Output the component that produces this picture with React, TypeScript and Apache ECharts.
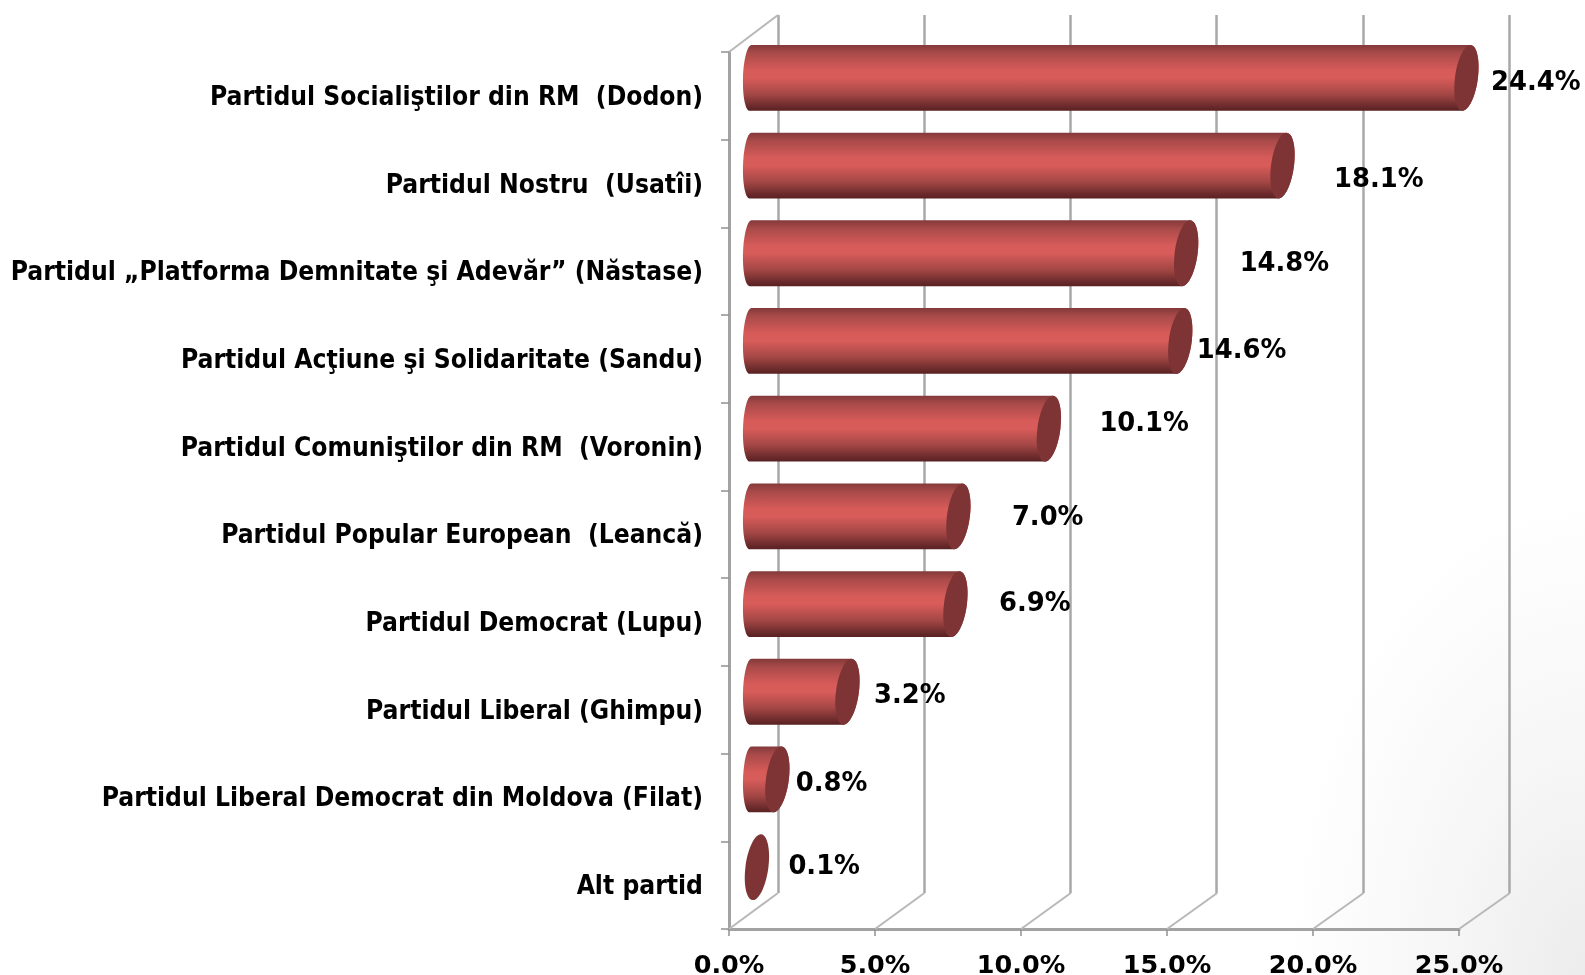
import React, { useEffect, useRef } from "react";
import * as echarts from "echarts";

const categories = [
  "Partidul Socialiştilor din RM  (Dodon)",
  "Partidul Nostru  (Usatîi)",
  "Partidul „Platforma Demnitate şi Adevăr” (Năstase)",
  "Partidul Acţiune şi Solidaritate (Sandu)",
  "Partidul Comuniştilor din RM  (Voronin)",
  "Partidul Popular European  (Leancă)",
  "Partidul Democrat (Lupu)",
  "Partidul Liberal (Ghimpu)",
  "Partidul Liberal Democrat din Moldova (Filat)",
  "Alt partid",
];
const values = [24.4, 18.1, 14.8, 14.6, 10.1, 7.0, 6.9, 3.2, 0.8, 0.1];
const wallTicks = [0, 5, 10, 15, 20, 25];
// manual label nudges (px) from the bar's end, as placed in the original
const labelDx = [13, 40, 42, 5, 39, 42, 32, 15, 7, 20];
const labelDy = [3, 12, 9, 8, -7, 0, -2, 2, 3, -2];

const CAT_FONT = '"DejaVu Sans Condensed", "DejaVu Sans", sans-serif';
const NUM_FONT = '"DejaVu Sans", sans-serif';
const DEPTH_X = 49;
const DEPTH_Y = 36;

function capPoint(cx: number, cy: number, rx: number, ry: number, s: number) {
  return (u: number, v: number) => `${(cx + rx * u - s * v).toFixed(2)} ${(cy + ry * v).toFixed(2)}`;
}
const K = 0.5523;

export default function App() {
  const ref = useRef<HTMLDivElement>(null);
  useEffect(() => {
    document.body.style.margin = "0";
    document.documentElement.style.overflow = "hidden";
    const chart = echarts.init(ref.current!, null, { renderer: "svg" });
    const barFill = new echarts.graphic.LinearGradient(0, 0, 0, 1, [
      { offset: 0, color: "#84393a" },
      { offset: 0.12, color: "#a84a49" },
      { offset: 0.38, color: "#d65b59" },
      { offset: 0.5, color: "#d85c5a" },
      { offset: 0.75, color: "#a34745" },
      { offset: 0.92, color: "#6f2c2d" },
      { offset: 1, color: "#582122" },
    ]);
    chart.setOption({
      animation: false,
      backgroundColor: "transparent",
      textStyle: { fontFamily: CAT_FONT },
      grid: [
        { left: 729, right: 126, top: 52, bottom: 46, outerBoundsMode: "none" },
        { left: 778, right: 76, top: 15, bottom: 82, outerBoundsMode: "none" },
      ],
      xAxis: [
        {
          type: "value",
          gridIndex: 0,
          min: 0,
          max: 25,
          interval: 5,
          splitLine: { show: false },
          axisLine: { show: true, lineStyle: { color: "#a2a2a2", width: 3 } },
          axisTick: { show: true, length: 7, lineStyle: { color: "#909090", width: 1.5 } },
          axisLabel: {
            formatter: (v: number) => v.toFixed(1) + "%",
            color: "#000",
            fontWeight: "bold",
            fontSize: 25.5,
            lineHeight: 20,
            fontFamily: NUM_FONT,
            margin: 24.5,
            hideOverlap: false,
          },
        },
        {
          type: "value",
          gridIndex: 1,
          min: 0,
          max: 25,
          interval: 5,
          axisLine: { show: false },
          axisTick: { show: false },
          axisLabel: { show: false },
          splitLine: { show: true, lineStyle: { color: "#a8a8a8", width: 2.5 } },
        },
      ],
      yAxis: [
        {
          type: "category",
          gridIndex: 0,
          inverse: true,
          data: categories,
          axisLine: { show: true, lineStyle: { color: "#a2a2a2", width: 3 } },
          axisTick: { show: true, length: 8, lineStyle: { color: "#909090", width: 1.5 } },
          axisLabel: {
            color: "#000",
            fontWeight: "bold",
            fontSize: 26.2,
            fontFamily: CAT_FONT,
            margin: 26,
            interval: 0,
          },
        },
        {
          type: "category",
          gridIndex: 1,
          inverse: true,
          data: categories,
          axisLine: { show: false },
          axisTick: { show: false },
          axisLabel: { show: false },
          splitLine: { show: false },
        },
      ],
      series: [
        {
          type: "custom",
          name: "floor",
          xAxisIndex: 0,
          yAxisIndex: 0,
          coordinateSystem: "cartesian2d",
          silent: true,
          z: 1,
          data: wallTicks.map((t) => [t, 9]),
          encode: { x: 0, y: 1 },
          renderItem: (params: any, api: any) => {
            const p = api.coord([api.value(0), api.value(1)]);
            const band = api.size([0, 1])[1];
            const bottom = p[1] + band / 2;
            const lineStyle = { stroke: "#b8b8b8", lineWidth: 2, fill: "none" };
            const children: any[] = [
              {
                type: "line",
                shape: { x1: p[0], y1: bottom, x2: p[0] + DEPTH_X + (params.dataIndex * 2) / 5, y2: bottom - DEPTH_Y },
                style: lineStyle,
              },
            ];
            if (params.dataIndex === 0) {
              const top = bottom - band * categories.length;
              children.push({
                type: "line",
                shape: { x1: p[0], y1: top, x2: p[0] + DEPTH_X, y2: top - DEPTH_Y - 1 },
                style: lineStyle,
              });
            }
            return { type: "group", children };
          },
        },
        {
          type: "custom",
          name: "bars",
          xAxisIndex: 0,
          yAxisIndex: 0,
          coordinateSystem: "cartesian2d",
          silent: true,
          z: 5,
          data: values.map((v, i) => [v, i]),
          encode: { x: 0, y: 1 },
          renderItem: (params: any, api: any) => {
            const v = api.value(0);
            const i = params.dataIndex;
            const end = api.coord([v, api.value(1)]);
            const start = api.coord([0, api.value(1)]);
            const band = api.size([0, 1])[1];
            const ry = (band * 0.75) / 2;
            const rx = 11.5;
            const cy = end[1] - DEPTH_Y / 2;
            const rxc = end[0] + 25;
            const L = capPoint(start[0] + 21.5, cy, 7.5, ry, 1);
            const R = capPoint(rxc, cy, rx, ry, 4);
            const body =
              `M ${L(0, -1)} L ${R(0, -1)} ` +
              `C ${R(K, -1)} ${R(1, -K)} ${R(1, 0)} C ${R(1, K)} ${R(K, 1)} ${R(0, 1)} ` +
              `L ${L(0, 1)} ` +
              `C ${L(-K, 1)} ${L(-1, K)} ${L(-1, 0)} C ${L(-1, -K)} ${L(-K, -1)} ${L(0, -1)} Z`;
            const cap =
              `M ${R(0, -1)} C ${R(K, -1)} ${R(1, -K)} ${R(1, 0)} C ${R(1, K)} ${R(K, 1)} ${R(0, 1)} ` +
              `C ${R(-K, 1)} ${R(-1, K)} ${R(-1, 0)} C ${R(-1, -K)} ${R(-K, -1)} ${R(0, -1)} Z`;
            const children: any[] = [];
            // a bar shorter than its cap shows only the cap
            if (end[0] - start[0] > rx / 2) {
              children.push({ type: "path", shape: { pathData: body }, style: { fill: barFill } });
            }
            children.push(
              { type: "path", shape: { pathData: cap }, style: { fill: "#7e3434" } },
              {
                type: "text",
                x: rxc + rx + labelDx[i],
                y: cy + labelDy[i],
                style: {
                  text: v.toFixed(1) + "%",
                  fill: "#000",
                  font: `bold 25.8px ${NUM_FONT}`,
                  textAlign: "left",
                  textVerticalAlign: "middle",
                },
              }
            );
            return { type: "group", children };
          },
        },
      ],
    });
    return () => chart.dispose();
  }, []);
  return (
    <div
      ref={ref}
      style={{
        position: "fixed",
        left: 0,
        top: 0,
        width: 1585,
        height: 975,
        background:
          "radial-gradient(ellipse 300px 480px at 100% 100%, #ececec 0%, #f6f6f6 45%, #ffffff 100%)",
      }}
    />
  );
}
